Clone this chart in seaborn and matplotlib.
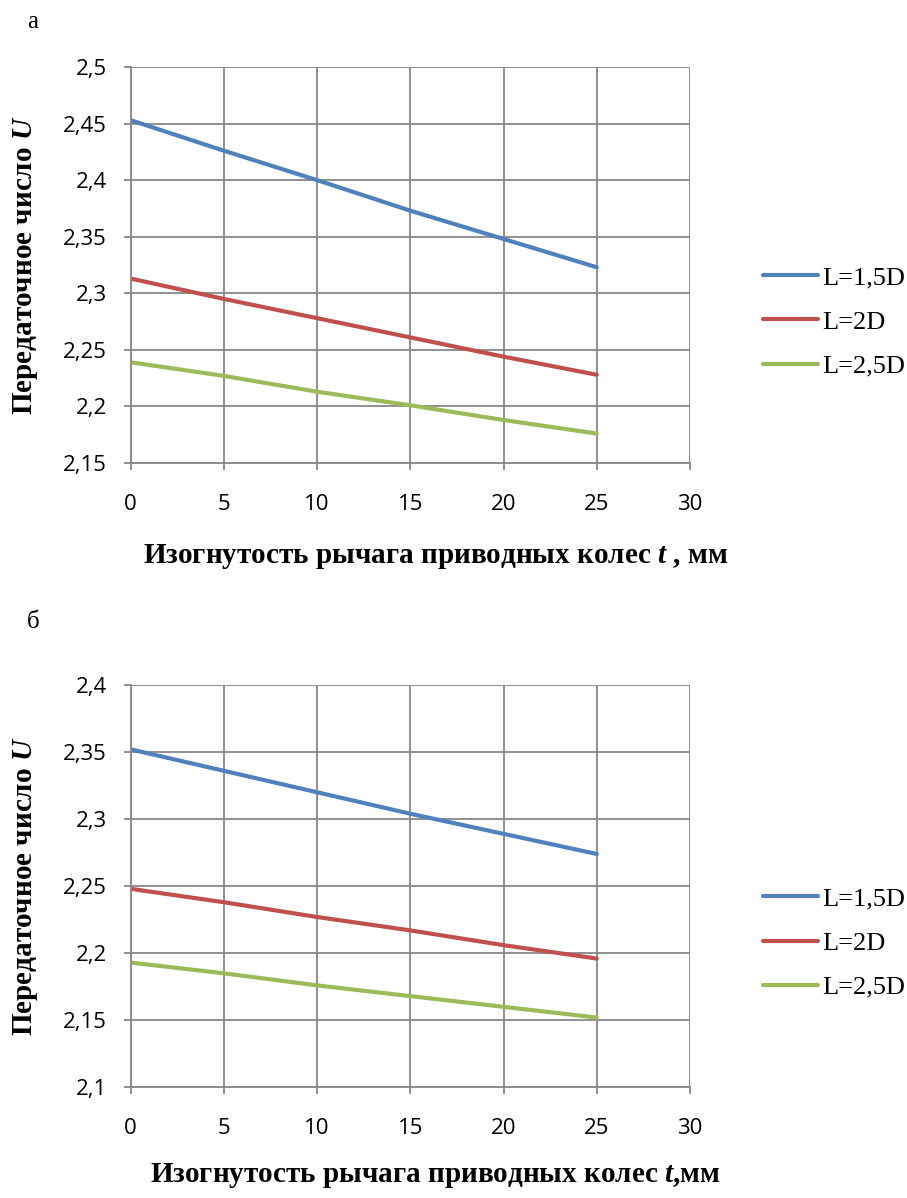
import matplotlib
matplotlib.use("Agg")
import matplotlib.pyplot as plt
import seaborn as sns
import pandas as pd

# ---- data ----
t_mm = [0, 5, 10, 15, 20, 25]
series_names = ["L=1,5D", "L=2D", "L=2,5D"]
a_L15 = [2.453, 2.426, 2.400, 2.373, 2.348, 2.323]
a_L20 = [2.313, 2.295, 2.278, 2.261, 2.244, 2.228]
a_L25 = [2.239, 2.227, 2.213, 2.201, 2.188, 2.176]
b_L15 = [2.352, 2.336, 2.320, 2.304, 2.289, 2.274]
b_L20 = [2.248, 2.238, 2.227, 2.217, 2.206, 2.196]
b_L25 = [2.193, 2.185, 2.176, 2.168, 2.160, 2.152]
a_yticks = [2.15, 2.2, 2.25, 2.3, 2.35, 2.4, 2.45, 2.5]
b_yticks = [2.1, 2.15, 2.2, 2.25, 2.3, 2.35, 2.4]
xticks = [0, 5, 10, 15, 20, 25, 30]
panel_labels = ["а", "б"]
xlabels = [r"Изогнутость рычага приводных колес $t$ , мм",
           r"Изогнутость рычага приводных колес $t$,мм"]
ylabel = r"Передаточное число $U$"

colors = ["#4F81BD", "#C0504D", "#9BBB59"]

sns.set_theme(style="white")
plt.rcParams['font.family'] = ['Open Sans', 'DejaVu Sans']
plt.rcParams['text.color'] = 'black'
plt.rcParams['axes.labelcolor'] = 'black'
plt.rcParams['xtick.color'] = 'black'
plt.rcParams['ytick.color'] = 'black'
plt.rcParams['mathtext.fontset'] = 'custom'
plt.rcParams['mathtext.rm'] = 'Liberation Serif:bold'
plt.rcParams['mathtext.it'] = 'Liberation Serif:bold:italic'
plt.rcParams['mathtext.bf'] = 'Liberation Serif:bold'

W, H = 907, 1198
fig = plt.figure(figsize=(W / 100, H / 100), dpi=100)

def make_df(vals):
    rows = []
    for name, v in zip(series_names, vals):
        for x, y in zip(t_mm, v):
            rows.append({"t": x, "U": y, "series": name})
    return pd.DataFrame(rows)

panels = [
    dict(vals=[a_L15, a_L20, a_L25], yticks=a_yticks, box=(130.7, 67, 690, 463),
         leg_y=322, xlab_y=557, panel_y=22),
    dict(vals=[b_L15, b_L20, b_L25], yticks=b_yticks, box=(130.7, 685, 690, 1087.3),
         leg_y=943, xlab_y=1176, panel_y=622),
]

grid_c = "#878787"
for i, p in enumerate(panels):
    l, t, r, b = p["box"]
    ax = fig.add_axes([l / W, 1 - b / H, (r - l) / W, (b - t) / H])
    df = make_df(p["vals"])
    sns.lineplot(data=df, x="t", y="U", hue="series", palette=colors,
                 linewidth=3.0, ax=ax, legend=True, solid_capstyle="round")
    yt = p["yticks"]
    ax.set_xlim(0, 30)
    ax.set_ylim(yt[0], yt[-1])
    ax.set_xticks(xticks)
    ax.set_yticks(yt)
    ax.set_xticklabels([str(x) for x in xticks])
    ax.set_yticklabels([("%g" % y).replace(".", ",") for y in yt])
    ax.grid(True, color=grid_c, linewidth=1.3)
    for s in ["top", "right"]:
        ax.spines[s].set_visible(False)
    for s in ["left", "bottom"]:
        ax.spines[s].set_color(grid_c)
        ax.spines[s].set_linewidth(1.3)
    ax.tick_params(axis="both", which="major", direction="out", length=5.3,
                   width=1.3, color=grid_c, labelsize=16, labelcolor="black",
                   bottom=True, left=True)
    ax.tick_params(axis="y", pad=12)
    ax.tick_params(axis="x", pad=17)
    ax.set_xlabel("")
    ax.set_ylabel("")
    # legend
    handles, labels = ax.get_legend_handles_labels()
    leg = ax.legend(handles, labels, loc="center left",
                    bbox_to_anchor=(763 / W, 1 - p["leg_y"] / H),
                    bbox_transform=fig.transFigure,
                    frameon=False, handlelength=2.1, handletextpad=0.15,
                    labelspacing=0.78, borderpad=0, borderaxespad=0,
                    prop={"family": "Liberation Serif", "size": 19})
    for txt in leg.get_texts():
        txt.set_color("black")
    for h in leg.legend_handles:
        h.set_linewidth(3.0)
        h.set_solid_capstyle("round")
    # y label
    fig.text(26 / W, 1 - ((t + b) / 2) / H, ylabel, rotation=90,
             ha="center", va="center", fontsize=21, color="black",
             family="Liberation Serif", fontweight="bold")
    # x label
    fig.text(435 / W, 1 - p["xlab_y"] / H, xlabels[i],
             ha="center", va="center", fontsize=21, color="black",
             family="Liberation Serif", fontweight="bold")
    # panel label
    fig.text(33 / W, 1 - p["panel_y"] / H, panel_labels[i],
             ha="center", va="center", fontsize=18, color="black",
             family="Liberation Serif")

fig.savefig("out.png", dpi=100, facecolor="white")
